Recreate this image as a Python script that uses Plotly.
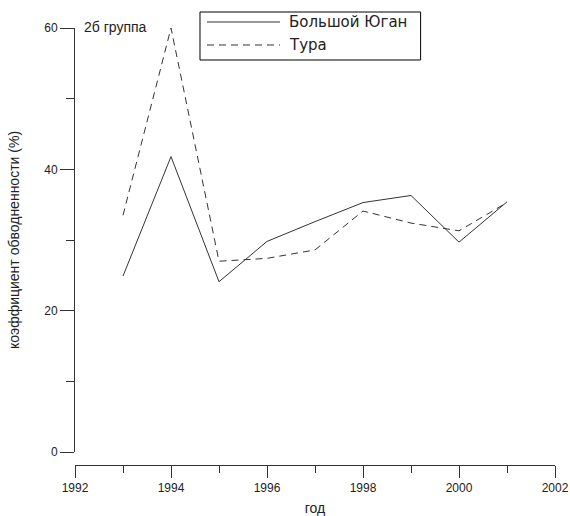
import plotly.graph_objects as go

# годы и коэффициент обводненности (%)
years = [1993, 1994, 1995, 1996, 1997, 1998, 1999, 2000, 2001]
bolshoy_yugan = [24.9, 41.8, 24.1, 29.8, 32.6, 35.3, 36.3, 29.7, 35.4]
tura = [33.5, 60.0, 27.0, 27.4, 28.6, 34.1, 32.4, 31.3, 35.3]
series_names = ["Большой Юган", "Тура"]

x_ticks = [1992, 1994, 1996, 1998, 2000, 2002]
y_ticks = [0, 20, 40, 60]

font = dict(family="Liberation Sans, Arial, sans-serif", size=12, color="#222")
wide_font = dict(family="DejaVu Sans, sans-serif", size=15, color="#222")
line_col = "#333"

fig = go.Figure()
fig.add_trace(go.Scatter(x=years, y=bolshoy_yugan, mode="lines", name=series_names[0],
                         line=dict(color=line_col, width=1)))
fig.add_trace(go.Scatter(x=years, y=tura, mode="lines", name=series_names[1],
                         line=dict(color=line_col, width=1, dash="7px,5px")))

fig.update_layout(
    width=570, height=516,
    margin=dict(l=75, r=15, t=28, b=51, autoexpand=False),
    paper_bgcolor="white", plot_bgcolor="white",
    font=font,
    showlegend=False,
    xaxis=dict(range=[1992, 2002], tickvals=x_ticks, ticks="outside", ticklen=12,
               tickcolor=line_col, showline=True, linecolor=line_col, linewidth=1,
               showgrid=False, zeroline=False, anchor="free", position=0,
               minor=dict(tickvals=[1993, 1995, 1997, 1999, 2001], ticks="outside",
                          ticklen=7, tickcolor=line_col),
               title=dict(text="год", standoff=8)),
    yaxis=dict(range=[0, 60], domain=[0.0297, 1], tickvals=y_ticks, ticks="outside",
               ticklen=14, tickcolor=line_col, showline=True, linecolor=line_col, linewidth=1,
               showgrid=False, zeroline=False,
               minor=dict(tickvals=[10, 30, 50], ticks="outside", ticklen=8, tickcolor=line_col),
               title=dict(text="коэффициент обводненности (%)", standoff=21)),
)

fig.add_annotation(text="2б группа", xref="paper", yref="paper", x=0.014, y=1.002,
                   xanchor="left", yanchor="middle", showarrow=False,
                   font=dict(font, size=14))

# legend box drawn by hand (longer line samples than plotly's own legend)
fig.add_shape(type="rect", xref="paper", yref="paper", x0=0.2604, x1=0.72,
              y0=0.9268, y1=1.0366, line=dict(color="black", width=1), fillcolor="white")
for i, dash in enumerate(["solid", "7px,5px"]):
    yy = 1.0137 - i * 0.0526
    fig.add_shape(type="line", xref="paper", yref="paper", x0=0.275, x1=0.4271,
                  y0=yy, y1=yy, line=dict(color=line_col, width=1, dash=dash))
    fig.add_annotation(text=series_names[i], xref="paper", yref="paper", x=0.442, y=yy,
                       xanchor="left", yanchor="middle", showarrow=False, font=wide_font)

fig.write_html("out.html", config={"displayModeBar": False},
               post_script="document.body.style.margin='0';")
